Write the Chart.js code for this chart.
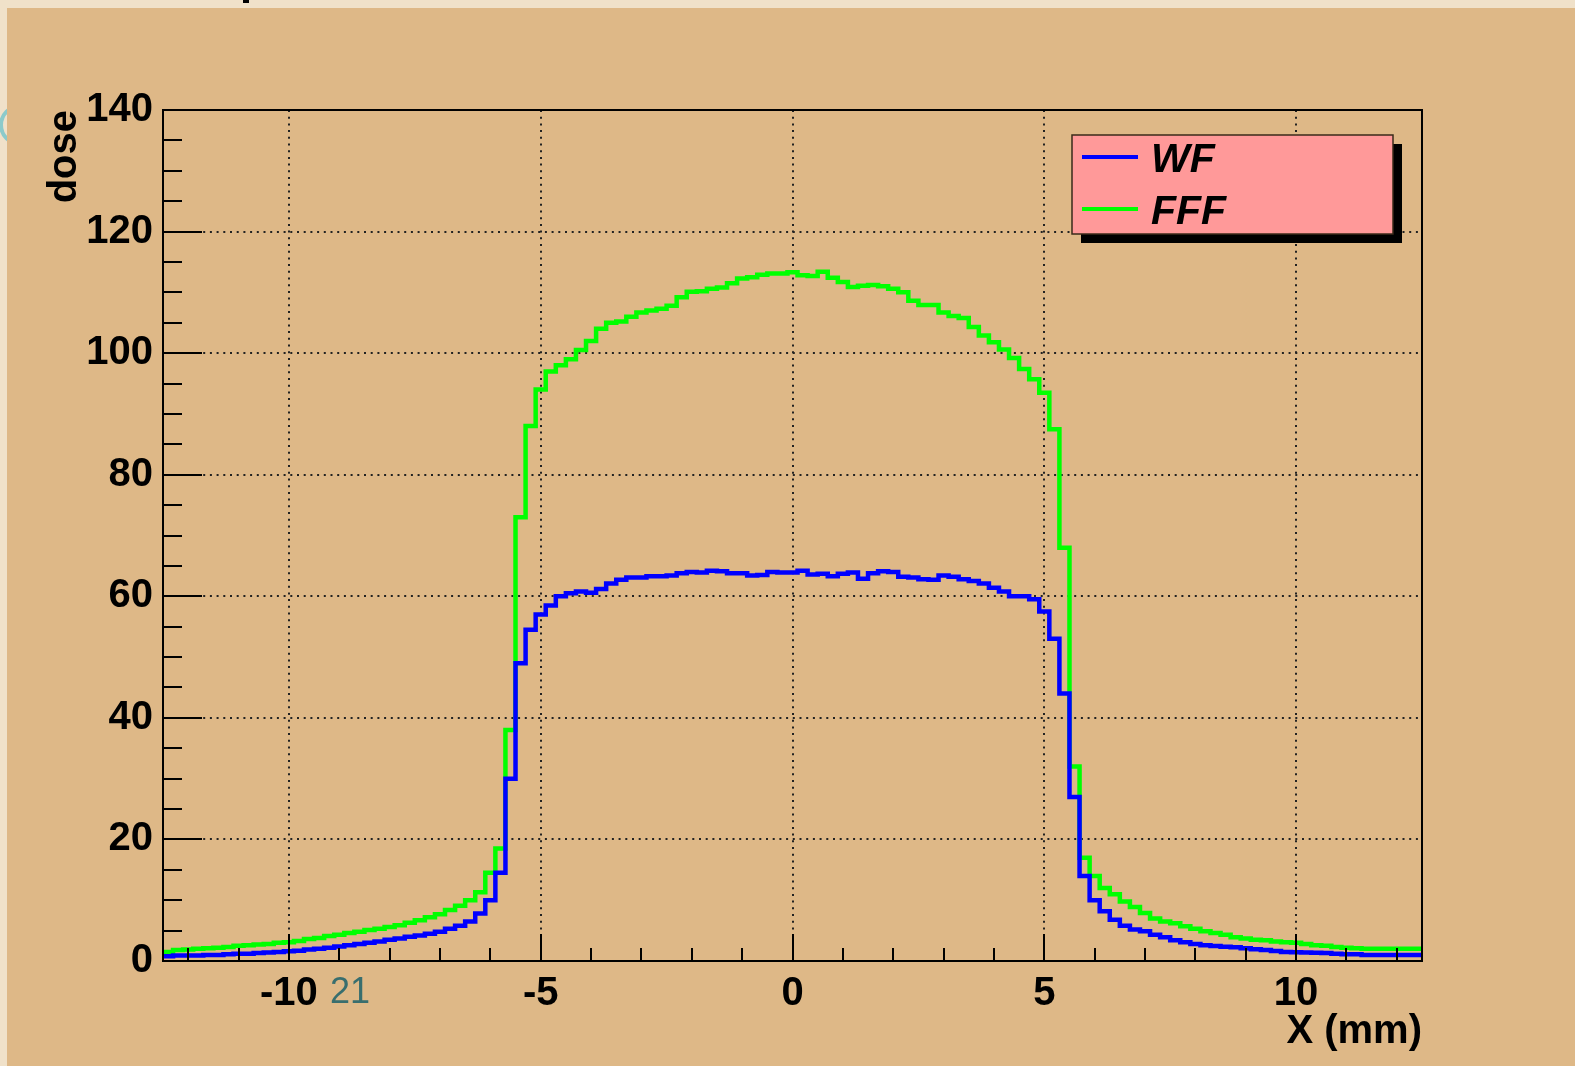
<!DOCTYPE html>
<html>
<head>
<meta charset="utf-8">
<title>dose profile WF / FFF</title>
<script src="https://cdn.jsdelivr.net/npm/chart.js@4.4.1/dist/chart.umd.min.js"></script>
<style>
  html, body { margin: 0; padding: 0; background: #f0e1c9; }
  canvas { display: block; }
</style>
</head>
<body>
<canvas id="doseChart" width="1575" height="1066"></canvas>
<script>
// --- histogram binning (mm) ---
const X_MIN = -12.5;
const X_MAX = 12.5;
const BIN = 0.2;

// --- axis ticks ---
const xTicks = [-10, -5, 0, 5, 10];
const yTicks = [0, 20, 40, 60, 80, 100, 120, 140];

// --- dose per bin, left to right ---
const wf = [
  0.8, 0.9, 0.9, 0.9, 1.0, 1.0, 1.1, 1.2, 1.2, 1.3,
  1.4, 1.5, 1.6, 1.7, 1.9, 2.0, 2.2, 2.4, 2.6, 2.8,
  3.0, 3.2, 3.5, 3.7, 4.0, 4.2, 4.5, 4.8, 5.3, 5.8,
  6.5, 7.8, 10.0, 14.5, 30, 49, 54.5, 57, 58.5, 60.0,
  60.5, 60.8, 60.6, 61.2, 62.1, 62.7, 63.1, 63.1, 63.3, 63.3,
  63.4, 63.8, 64.0, 63.9, 64.2, 64.1, 63.8, 63.8, 63.4, 63.5,
  64.0, 63.9, 63.9, 64.2, 63.6, 63.7, 63.3, 63.7, 63.9, 62.9,
  63.8, 64.1, 64.0, 63.2, 63.1, 62.8, 62.7, 63.4, 63.2, 62.8,
  62.5, 62.1, 61.4, 60.8, 60.0, 60.0, 59.5, 57.5, 53, 44,
  27, 14, 10, 8.2, 6.8, 5.8, 5.2, 4.9, 4.3, 3.9,
  3.4, 3.1, 2.8, 2.6, 2.45, 2.35, 2.25, 2.1, 1.95, 1.8,
  1.65, 1.5, 1.45, 1.4, 1.35, 1.3, 1.2, 1.1, 1.1, 1.0,
  1.0, 1.0, 1.0, 1.0, 1.0
];
const fff = [
  1.5, 1.8, 1.9, 2.0, 2.1, 2.2, 2.3, 2.5, 2.6, 2.7,
  2.8, 3.0, 3.1, 3.3, 3.6, 3.8, 4.1, 4.3, 4.6, 4.8,
  5.1, 5.3, 5.6, 5.9, 6.3, 6.7, 7.2, 7.7, 8.4, 9.1,
  10.0, 11.3, 14.5, 18.5, 38, 73, 88, 94, 97, 98,
  99, 100.5, 102, 104, 105, 105.2, 106, 106.7, 107, 107.3,
  107.8, 109.2, 110.1, 110.2, 110.6, 110.8, 111.5, 112.3, 112.5, 112.9,
  113.1, 113.1, 113.3, 112.8, 112.7, 113.4, 112.4, 111.7, 110.9, 111.1,
  111.2, 111.0, 110.6, 110.0, 108.6, 107.9, 107.9, 106.7, 106.1, 105.8,
  104.3, 102.9, 101.8, 100.6, 99.2, 97.4, 95.7, 93.5, 87.5, 68,
  32, 17, 14, 12.0, 11.0, 9.8, 8.9, 7.9, 7.0, 6.5,
  6.2, 5.7, 5.3, 4.9, 4.6, 4.3, 3.9, 3.7, 3.5, 3.4,
  3.2, 3.1, 3.0, 2.8, 2.6, 2.5, 2.3, 2.2, 2.1, 2.0,
  2.0, 2.0, 2.0, 2.0, 2.0
];

// bins -> step points (low edge of every bin, plus the closing edge)
function toSteps(vals) {
  const pts = vals.map((v, i) => ({ x: X_MIN + i * BIN, y: v }));
  pts.push({ x: X_MAX, y: vals[vals.length - 1] });
  return pts;
}

const FONT = "'Liberation Sans', Arial, Helvetica, sans-serif";

// --- pad, frame, dotted grid, inside ticks and legend box ---
const rootPad = {
  id: "rootPad",
  beforeDraw(chart) {
    const { ctx, width, height } = chart;
    ctx.save();
    ctx.fillStyle = "#f0e1c9";
    ctx.fillRect(0, 0, width, height);
    // ring peeking out on the left edge
    ctx.strokeStyle = "#8ccaca";
    ctx.lineWidth = 4;
    ctx.beginPath();
    ctx.arc(20, 125, 19, 0, Math.PI * 2);
    ctx.stroke();
    // pad
    ctx.fillStyle = "#deb887";
    ctx.fillRect(7, 8, width - 7, height - 8);
    // tail of the cut-off heading
    ctx.fillStyle = "#000";
    ctx.fillRect(243, 0, 6, 3);
    ctx.restore();
  },
  beforeDatasetsDraw(chart) {
    const { ctx, chartArea: a, scales: { x, y } } = chart;
    ctx.save();
    ctx.strokeStyle = "#222";
    ctx.lineWidth = 2;
    ctx.setLineDash([2, 4.7]);
    xTicks.forEach(v => {
      const px = Math.round(x.getPixelForValue(v));
      ctx.beginPath();
      ctx.moveTo(px, a.top);
      ctx.lineTo(px, a.bottom);
      ctx.stroke();
    });
    yTicks.forEach(v => {
      if (v === y.min || v === y.max) return;
      const py = Math.round(y.getPixelForValue(v));
      ctx.beginPath();
      ctx.moveTo(a.left, py);
      ctx.lineTo(a.right, py);
      ctx.stroke();
    });
    ctx.restore();
  },
  afterDatasetsDraw(chart) {
    const { ctx, chartArea: a, scales: { x, y } } = chart;
    ctx.save();
    ctx.strokeStyle = "#000";
    ctx.lineWidth = 2;

    const line = (x1, y1, x2, y2) => {
      ctx.beginPath();
      ctx.moveTo(x1, y1);
      ctx.lineTo(x2, y2);
      ctx.stroke();
    };
    // left axis: majors every 20, 3 minors in between
    for (let i = 0; i < yTicks.length; i++) {
      const py = Math.round(y.getPixelForValue(yTicks[i]));
      line(a.left, py, a.left + 39, py);
      if (i + 1 < yTicks.length) {
        const step = (yTicks[i + 1] - yTicks[i]) / 4;
        for (let k = 1; k < 4; k++) {
          const pm = Math.round(y.getPixelForValue(yTicks[i] + k * step));
          line(a.left, pm, a.left + 19, pm);
        }
      }
    }
    // bottom axis: majors at the labels, minors every mm
    for (let v = Math.ceil(X_MIN); v <= Math.floor(X_MAX); v++) {
      const px = Math.round(x.getPixelForValue(v));
      const len = xTicks.includes(v) ? 27 : 13;
      line(px, a.bottom, px, a.bottom - len);
    }
    // frame
    ctx.strokeRect(a.left, a.top, a.right - a.left, a.bottom - a.top);

    // legend box with drop shadow
    const lx = 1072, ly = 135, lw = 321, lh = 99;
    ctx.fillStyle = "#000";
    ctx.fillRect(lx + 9, ly + 9, lw, lh);
    ctx.fillStyle = "#ff9999";
    ctx.fillRect(lx, ly, lw, lh);
    ctx.lineWidth = 1.5;
    ctx.strokeStyle = "#3a2a1a";
    ctx.strokeRect(lx, ly, lw, lh);

    ctx.font = "italic bold 41px " + FONT;
    ctx.textBaseline = "alphabetic";
    ctx.textAlign = "left";
    chart.data.datasets.forEach((ds, i) => {
      const ry = 157 + i * 52;
      ctx.strokeStyle = ds.borderColor;
      ctx.lineWidth = 4;
      line(1082, ry, 1138, ry);
      ctx.fillStyle = "#000";
      ctx.fillText(ds.label, 1151, ry + 15);
    });

    // slide page number
    ctx.font = "36px " + FONT;
    ctx.fillStyle = "#386e6e";
    ctx.fillText("21", 330, 1003);
    ctx.restore();
  }
};

const tickFont = { family: FONT, size: 40, weight: "bold" };
const titleFont = { family: FONT, size: 40, weight: "bold" };

const chart = new Chart(document.getElementById("doseChart"), {
  type: "line",
  data: {
    datasets: [
      {
        label: "WF",
        data: toSteps(wf),
        borderColor: "#0000ff",
        borderWidth: 4.5,
        stepped: "before",
        pointRadius: 0,
        fill: false
      },
      {
        label: "FFF",
        data: toSteps(fff),
        borderColor: "#00ff00",
        borderWidth: 4.5,
        stepped: "before",
        pointRadius: 0,
        fill: false
      }
    ]
  },
  options: {
    responsive: false,
    animation: false,
    layout: { padding: { left: 0, top: 110, right: 153, bottom: 0 } },
    plugins: {
      legend: { display: false },
      tooltip: { enabled: false }
    },
    scales: {
      x: {
        type: "linear",
        min: X_MIN,
        max: X_MAX,
        grid: { display: false, drawTicks: false },
        border: { display: false },
        ticks: {
          font: tickFont,
          color: "#000",
          padding: 9,
          maxRotation: 0,
          autoSkip: false,
          callback: v => String(v)
        },
        afterBuildTicks: s => { s.ticks = xTicks.map(v => ({ value: v })); },
        afterFit: s => { s.height = 105; },
        title: {
          display: true,
          text: "X (mm)",
          align: "end",
          color: "#000",
          font: titleFont,
          padding: { top: 0, bottom: 10 }
        }
      },
      y: {
        type: "linear",
        min: 0,
        max: 140,
        grid: { display: false, drawTicks: false },
        border: { display: false },
        ticks: {
          font: tickFont,
          color: "#000",
          padding: 10,
          autoSkip: false,
          callback: v => String(v)
        },
        afterBuildTicks: s => { s.ticks = yTicks.map(v => ({ value: v })); },
        afterFit: s => { s.width = 163; },
        title: {
          display: true,
          text: "dose",
          align: "end",
          color: "#000",
          font: titleFont,
          padding: { top: 41, bottom: 0 }
        }
      }
    }
  },
  plugins: [rootPad]
});
</script>
</body>
</html>
